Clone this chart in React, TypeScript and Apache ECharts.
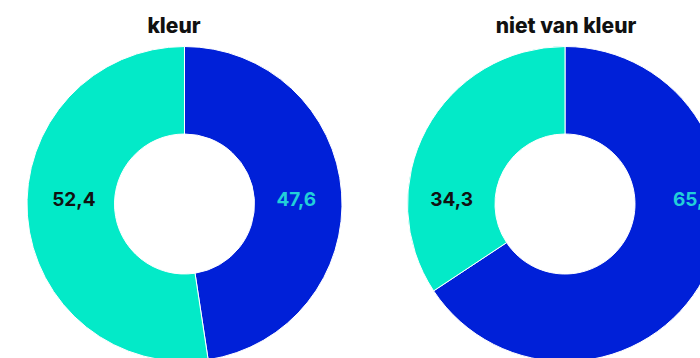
import React, { useEffect, useRef } from "react";
import * as echarts from "echarts";

const groups = ["kleur", "niet van kleur"];
const sliceNames = ["blauw", "turquoise"];
const valuesKleur = [47.6, 52.4];
const valuesNietVanKleur = [65.7, 34.3];

const BLUE = "#0020D8";
const CYAN = "#03EAC8";
const LABEL_ON_BLUE = "#22CFD8";
const LABEL_ON_CYAN = "#111111";

const CENTERS: [number, number][] = [
  [184.5, 204],
  [565, 204],
];
const TITLE_X = [169, 561];
// horizontal distance from centre to the near edge of each label: [blue (right), cyan (left)]
const LABEL_GAP: [number, number][] = [
  [92, 89],
  [108, 92],
];
const R_IN = 70;
const R_OUT = 157.5;

const fmt = (v: number) => v.toFixed(1).replace(".", ",");

export default function App() {
  const ref = useRef<HTMLDivElement>(null);
  useEffect(() => {
    if (!ref.current) return;
    const chart = echarts.init(ref.current, null, { renderer: "svg" });
    const all = [valuesKleur, valuesNietVanKleur];
    const series = all.map((vals, si) => ({
      type: "pie",
      center: CENTERS[si],
      radius: [R_IN, R_OUT],
      startAngle: 90,
      clockwise: true,
      silent: true,
      itemStyle: { borderColor: "#ffffff", borderWidth: 1 },
      label: {
        show: true,
        position: "inside",
        formatter: (p: any) => fmt(p.value),
        fontFamily: "Inter",
        fontWeight: 700,
        fontSize: 19,
      },
      labelLine: { show: false },
      labelLayout: (p: any) => {
        const c = CENTERS[si];
        const right = p.dataIndex === 0;
        const x = right ? c[0] + LABEL_GAP[si][0] : c[0] - LABEL_GAP[si][1];
        return { x, y: c[1] - 5, align: right ? "left" : "right", verticalAlign: "middle" };
      },
      data: vals.map((v, i) => ({
        name: sliceNames[i],
        value: v,
        itemStyle: { color: i === 0 ? BLUE : CYAN },
        label: { color: i === 0 ? LABEL_ON_BLUE : LABEL_ON_CYAN },
      })),
    }));
    chart.setOption({
      animation: false,
      title: groups.map((g, i) => ({
        text: g,
        left: TITLE_X[i],
        top: 10,
        textAlign: "center",
        textStyle: {
          fontFamily: "Inter",
          fontWeight: 800,
          fontSize: 21,
          color: "#111111",
        },
      })),
      series,
    });
    return () => chart.dispose();
  }, []);
  return (
    <div
      ref={ref}
      style={{ position: "fixed", left: 0, top: 0, width: 700, height: 358, background: "#fff" }}
    />
  );
}
